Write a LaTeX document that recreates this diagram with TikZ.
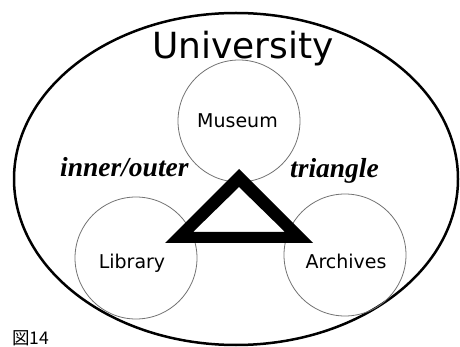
\documentclass[tikz,border=0pt]{standalone}
\usepackage{fontspec}
\usetikzlibrary{shapes.geometric}
\newfontfamily\sansfam{DejaVu Sans}
\newfontfamily\serifbi{Liberation Serif}[BoldItalicFont={Liberation Serif Bold Italic}]
\newfontfamily\cjkfam{Noto Sans CJK JP}
\tikzset{
  campus/.style={ellipse, draw=black, line width=2.5pt, inner sep=0pt, minimum width=444pt, minimum height=332pt},
  unit/.style={circle, draw=black!55, line width=0.8pt, inner sep=0pt, minimum size=122pt},
  unitlabel/.style={anchor=base, inner sep=0pt, font=\sansfam\fontsize{19}{19}\selectfont},
  bigtitle/.style={anchor=base, inner sep=0pt, font=\sansfam\fontsize{36}{36}\selectfont},
  note/.style={anchor=base west, inner sep=0pt, font=\serifbi\bfseries\itshape\fontsize{27.5}{27.5}\selectfont},
  fig/.style={anchor=base west, inner sep=0pt, font=\cjkfam\fontsize{17.5}{17.5}\selectfont}
}
\begin{document}
\begin{tikzpicture}[x=1pt,y=-1pt]
\clip (0,0) rectangle (460,347);
\fill[white] (0,0) rectangle (460,347);
\node[campus] (uni) at (236,179) {};
\node[unit] (museum) at (239,121) {};
\node[unit] (library) at (136,258) {};
\node[unit] (archives) at (345,255) {};
\node[bigtitle] (title) at (243,59) {University};
\node[unitlabel] (tm) at (237.5,128) {Museum};
\node[unitlabel] (tl) at (132,268) {Library};
\node[unitlabel] (ta) at (346,268) {Archives};
\node[note] (io) at (60,177) {inner/outer};
\node[note] (tri) at (290,178) {triangle};
\node[fig] (cap) at (12,344.5) {図14};
\fill[black, even odd rule]
  (239,169) -- (165,243) -- (313,243) -- cycle
  (239,187) -- (193,232) -- (285,232) -- cycle;
\end{tikzpicture}
\end{document}
